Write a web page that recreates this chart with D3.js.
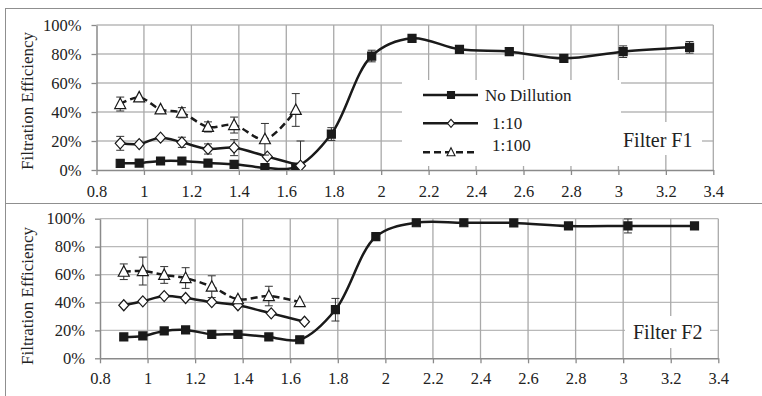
<!DOCTYPE html>
<html>
<head>
<meta charset="utf-8">
<script src="https://cdn.jsdelivr.net/npm/d3@7"></script>
<style>
  body { margin: 0; background: #fff; }
  svg { display: block; font-family: "Liberation Serif", "Times New Roman", serif; }
</style>
</head>
<body>
<div id="chart"></div>
<script>
// axis ticks
const xTicks = [0.8, 1, 1.2, 1.4, 1.6, 1.8, 2, 2.2, 2.4, 2.6, 2.8, 3, 3.2, 3.4];
const yTicks = [0, 20, 40, 60, 80, 100];

// Filter F1
const f1NoDilX = [0.90, 0.98, 1.07, 1.16, 1.27, 1.38, 1.51, 1.64, 1.79, 1.96, 2.13, 2.33, 2.54, 2.77, 3.02, 3.30];
const f1NoDil = [4.6, 4.8, 6.2, 6.2, 4.8, 3.9, 1.6, 2.0, 24.8, 78.6, 90.8, 83.2, 81.6, 77.0, 81.6, 84.6];
const f1NoDilErr = [0, 0, 0, 0, 0, 0, 0, 0, 4.4, 4, 2.5, 0, 0, 0, 4, 4];
const f1D10X = [0.90, 0.98, 1.07, 1.16, 1.27, 1.38, 1.52, 1.66];
const f1D10 = [18.4, 17.9, 22.3, 19.1, 14.5, 15.4, 9.2, 3.0];
const f1D10Err = [4.8, 0, 0, 3.5, 3.5, 5.5, 0, 17];
const f1D100X = [0.90, 0.98, 1.07, 1.16, 1.27, 1.38, 1.51, 1.64];
const f1D100 = [45.5, 50.1, 41.8, 39.5, 29.7, 31.0, 21.2, 41.4];
const f1D100Err = [4.8, 0, 0, 3.5, 3.5, 5.5, 10.9, 11.3];

// Filter F2
const f2NoDilX = [0.90, 0.98, 1.07, 1.16, 1.27, 1.38, 1.51, 1.64, 1.79, 1.96, 2.13, 2.33, 2.54, 2.77, 3.02, 3.30];
const f2NoDil = [15.3, 16.0, 19.6, 20.3, 17.2, 17.2, 15.3, 13.3, 34.8, 87.1, 97.1, 97.1, 97.0, 94.8, 94.8, 94.8];
const f2NoDilErr = [0, 0, 0, 0, 0, 0, 0, 0, 8.1, 1.5, 2, 0, 0, 0, 5, 0];
const f2D10X = [0.90, 0.98, 1.07, 1.16, 1.27, 1.38, 1.52, 1.66];
const f2D10 = [38.0, 40.8, 44.6, 43.2, 40.3, 38.0, 32.2, 26.2];
const f2D10Err = [0, 0, 0, 0, 0, 0, 0, 0];
const f2D100X = [0.90, 0.98, 1.07, 1.16, 1.27, 1.38, 1.51, 1.64];
const f2D100 = [62.0, 62.5, 59.7, 57.5, 51.3, 42.3, 44.6, 40.3];
const f2D100Err = [5.6, 10, 6, 7.4, 7.8, 0, 7, 0];

const seriesNames = ["No Dillution", "1:10", "1:100"];

const W = 762, H = 396;
const svg = d3.select("#chart").append("svg").attr("width", W).attr("height", H);

// outer frames
const frameColor = "#8f8f8f";
svg.append("line").attr("x1", 5).attr("x2", W).attr("y1", 8.5).attr("y2", 8.5).attr("stroke", frameColor);
svg.append("line").attr("x1", 5).attr("x2", W).attr("y1", 203.5).attr("y2", 203.5).attr("stroke", frameColor);
svg.append("line").attr("x1", 5.5).attr("x2", 5.5).attr("y1", 8).attr("y2", H).attr("stroke", frameColor);

const markers = {
  square: "M-4,-4h8v8h-8z",
  diamond: "M0,-5.5L5,0L0,5.5L-5,0Z",
  triangle: "M0,-6L5.5,4.5L-5.5,4.5Z"
};
const legendMarkers = {
  square: "M-3.5,-3.5h7v7h-7z",
  diamond: "M0,-4L3.5,0L0,4L-3.5,0Z",
  triangle: "M0,-4.5L4,3.5L-4,3.5Z"
};

function drawPanel(cfg) {
  const x = d3.scaleLinear().domain([0.8, 3.4]).range([cfg.left, cfg.right]);
  const y = d3.scaleLinear().domain([0, 100]).range([cfg.bottom, cfg.top]);
  const g = svg.append("g");

  // grid
  g.append("g").selectAll("line").data(yTicks.slice(1)).enter().append("line")
    .attr("x1", cfg.left).attr("x2", cfg.right)
    .attr("y1", d => y(d)).attr("y2", d => y(d))
    .attr("stroke", "#b9b9b9").attr("stroke-width", 1.3);
  g.append("g").selectAll("line").data(xTicks.slice(1)).enter().append("line")
    .attr("x1", d => x(d)).attr("x2", d => x(d))
    .attr("y1", cfg.top).attr("y2", cfg.bottom)
    .attr("stroke", "#a9a9a9").attr("stroke-width", 1.3);

  // white boxes behind legend and label
  cfg.boxes.forEach(b => {
    g.append("rect").attr("x", b[0]).attr("y", b[1]).attr("width", b[2]).attr("height", b[3]).attr("fill", "#fff");
  });

  // axes
  const xAxis = g.append("g").attr("transform", "translate(0," + cfg.bottom + ")")
    .call(d3.axisBottom(x).tickValues(xTicks).tickSize(5).tickPadding(cfg.xPad).tickSizeOuter(0)
      .tickFormat(d3.format("")));
  const yAxis = g.append("g").attr("transform", "translate(" + cfg.left + ",0)")
    .call(d3.axisLeft(y).tickValues(yTicks).tickSize(5).tickPadding(10).tickSizeOuter(0)
      .tickFormat(d => d + "%"));
  [xAxis, yAxis].forEach(a => {
    a.select(".domain").attr("stroke", "#8a8a8a").attr("stroke-width", 1.5);
    a.selectAll(".tick line").attr("stroke", "#8a8a8a").attr("stroke-width", 1.3);
    a.selectAll("text").attr("fill", "#222").style("font-size", "16.5px")
      .style("font-family", '"Liberation Serif", serif');
  });

  g.append("text")
    .attr("transform", "translate(27," + cfg.titleY + ") rotate(-90)")
    .attr("text-anchor", "middle").attr("dy", "0.35em")
    .attr("fill", "#222").style("font-size", "17px")
    .text("Filtration Efficiency");

  // clip for series
  const clipId = "clip" + cfg.id;
  svg.append("clipPath").attr("id", clipId).append("rect")
    .attr("x", cfg.left - 10).attr("y", cfg.top - 10)
    .attr("width", cfg.right - cfg.left + 20).attr("height", cfg.bottom - cfg.top + 10);
  const plot = g.append("g").attr("clip-path", "url(#" + clipId + ")");

  const line = d3.line().x(d => x(d.x)).y(d => y(d.y)).curve(d3.curveCatmullRom.alpha(0.5));

  cfg.series.forEach(s => {
    const pts = s.xs.map((v, i) => ({ x: v, y: s.ys[i], e: s.err[i] }));
    plot.append("path").datum(pts).attr("d", line)
      .attr("fill", "none").attr("stroke", "#1a1a1a").attr("stroke-width", 2.5)
      .attr("stroke-dasharray", s.dash ? "7,4" : null);
    const eb = plot.append("g").selectAll("g").data(pts.filter(p => p.e > 0)).enter().append("g")
      .attr("stroke", "#333").attr("stroke-width", 1);
    eb.append("line").attr("x1", d => x(d.x)).attr("x2", d => x(d.x))
      .attr("y1", d => y(d.y - d.e)).attr("y2", d => y(d.y + d.e));
    eb.append("line").attr("x1", d => x(d.x) - 4).attr("x2", d => x(d.x) + 4)
      .attr("y1", d => y(d.y + d.e)).attr("y2", d => y(d.y + d.e));
    eb.append("line").attr("x1", d => x(d.x) - 4).attr("x2", d => x(d.x) + 4)
      .attr("y1", d => y(d.y - d.e)).attr("y2", d => y(d.y - d.e));
    plot.append("g").selectAll("path").data(pts).enter().append("path")
      .attr("d", markers[s.marker])
      .attr("transform", d => "translate(" + x(d.x) + "," + y(d.y) + ")")
      .attr("fill", s.marker === "square" ? "#1a1a1a" : "#fff")
      .attr("stroke", "#1a1a1a").attr("stroke-width", 1.2);
  });

  // panel label
  g.append("text").attr("x", cfg.label[0]).attr("y", cfg.label[1]).attr("dy", "0.35em")
    .attr("fill", "#222").style("font-size", "20px").text(cfg.label[2]);

  return g;
}

drawPanel({
  id: 1, left: 96.5, right: 713.3, top: 25, bottom: 170, xPad: 10.5, titleY: 101,
  boxes: [[402, 80, 219, 86], [619, 122, 83, 33]],
  label: [623, 140, "Filter F1"],
  series: [
    { xs: f1NoDilX, ys: f1NoDil, err: f1NoDilErr, marker: "square" },
    { xs: f1D10X, ys: f1D10, err: f1D10Err, marker: "diamond" },
    { xs: f1D100X, ys: f1D100, err: f1D100Err, marker: "triangle", dash: true }
  ]
});

drawPanel({
  id: 2, left: 100, right: 718.3, top: 218.7, bottom: 358.3, xPad: 9.3, titleY: 296,
  boxes: [[625, 316, 85, 32]],
  label: [633, 332, "Filter F2"],
  series: [
    { xs: f2NoDilX, ys: f2NoDil, err: f2NoDilErr, marker: "square" },
    { xs: f2D10X, ys: f2D10, err: f2D10Err, marker: "diamond" },
    { xs: f2D100X, ys: f2D100, err: f2D100Err, marker: "triangle", dash: true }
  ]
});

// legend (top panel)
const legendRows = [
  { name: seriesNames[0], marker: "square", dash: false, ly: 95, ty: 95, tx: 485 },
  { name: seriesNames[1], marker: "diamond", dash: false, ly: 123.3, ty: 123, tx: 492 },
  { name: seriesNames[2], marker: "triangle", dash: true, ly: 152.3, ty: 145, tx: 492 }
];
const lg = svg.append("g");
legendRows.forEach(r => {
  lg.append("line").attr("x1", 423).attr("x2", 478).attr("y1", r.ly).attr("y2", r.ly)
    .attr("stroke", "#1a1a1a").attr("stroke-width", 2.5)
    .attr("stroke-dasharray", r.dash ? "7,4" : null);
  lg.append("path").attr("d", legendMarkers[r.marker])
    .attr("transform", "translate(451," + r.ly + ")")
    .attr("fill", r.marker === "square" ? "#1a1a1a" : "#fff")
    .attr("stroke", "#1a1a1a").attr("stroke-width", 1.1);
  lg.append("text").attr("x", r.tx).attr("y", r.ty).attr("dy", "0.35em")
    .attr("fill", "#222").style("font-size", "17px").text(r.name);
});
</script>
</body>
</html>
